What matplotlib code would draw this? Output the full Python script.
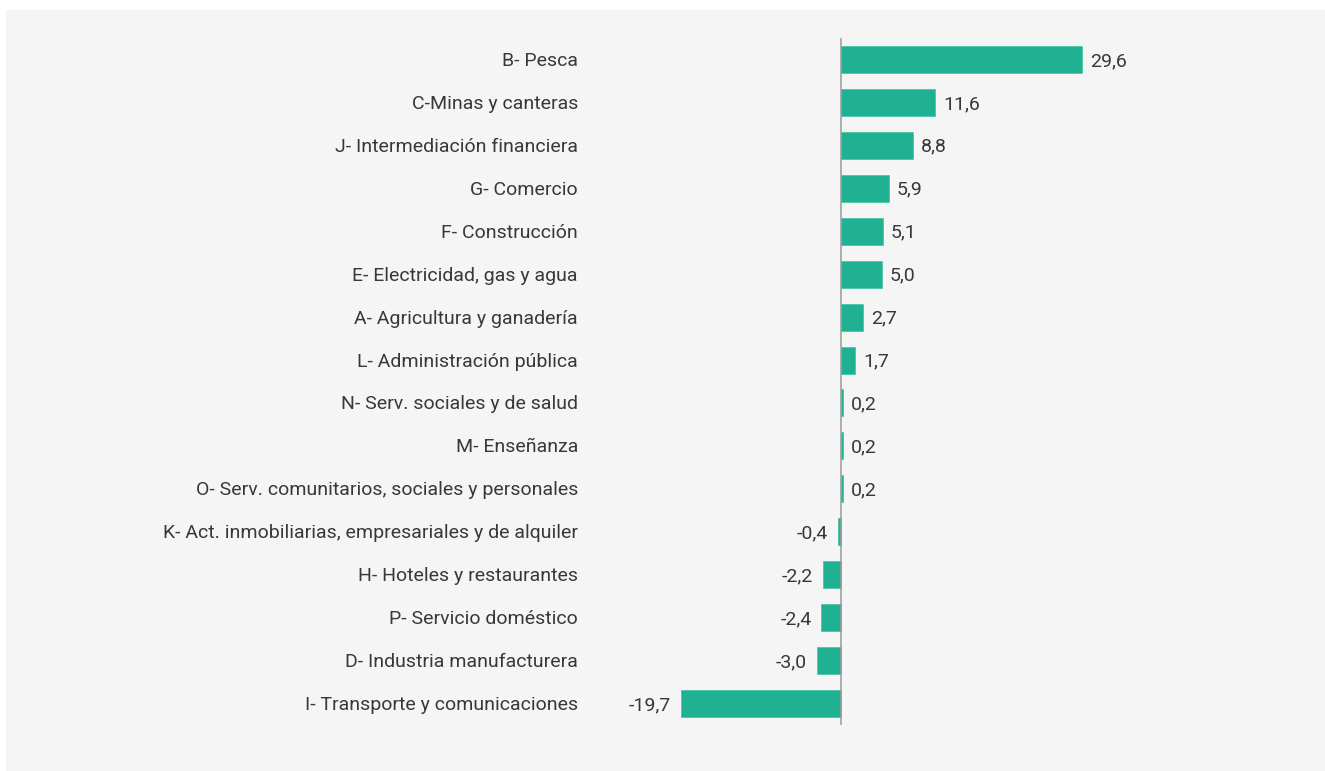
import matplotlib
matplotlib.use("Agg")
import matplotlib.pyplot as plt
from matplotlib.patches import Rectangle

categories = [
    "B- Pesca", "C-Minas y canteras", "J- Intermediación financiera", "G- Comercio",
    "F- Construcción", "E- Electricidad, gas y agua", "A- Agricultura y ganadería",
    "L- Administración pública", "N- Serv. sociales y de salud", "M- Enseñanza",
    "O- Serv. comunitarios, sociales y personales",
    "K- Act. inmobiliarias, empresariales y de alquiler",
    "H- Hoteles y restaurantes", "P- Servicio doméstico",
    "D- Industria manufacturera", "I- Transporte y comunicaciones",
]
values = [29.6, 11.6, 8.8, 5.9, 5.1, 5.0, 2.7, 1.7, 0.2, 0.2, 0.2, -0.4, -2.2, -2.4, -3.0, -19.7]
value_labels = ["29,6", "11,6", "8,8", "5,9", "5,1", "5,0", "2,7", "1,7", "0,2", "0,2", "0,2",
                "-0,4", "-2,2", "-2,4", "-3,0", "-19,7"]

plt.rcParams['font.family'] = ['Roboto', 'DejaVu Sans']

W, H = 1325, 771
fig = plt.figure(figsize=(W / 100, H / 100), dpi=100)
fig.patch.set_facecolor("white")
fig.patches.append(Rectangle((6 / W, 0), 1 - 6 / W, 1 - 10 / H, transform=fig.transFigure,
                             facecolor="#f5f5f5", edgecolor="none", zorder=-10))

xmin, xmax = -22, 32
ppu = 8.14
left_px = 841 + xmin * ppu
right_px = 841 + xmax * ppu
top_px, bot_px = 38, 725
ax = fig.add_axes([left_px / W, 1 - bot_px / H, (right_px - left_px) / W, (bot_px - top_px) / H])
ax.set_facecolor("none")
ax.set_zorder(5)

y = list(range(len(categories)))
ax.barh(y, values, height=0.63, color="#1fb191", edgecolor="#4cc6a9", linewidth=0.6, zorder=2)
ax.set_xlim(xmin, xmax)
ax.set_ylim(len(categories) - 0.5, -0.5)
ax.axvline(0, color="#9a9a9a", linewidth=1.1, zorder=3)

for s in ax.spines.values():
    s.set_visible(False)
ax.set_xticks([])
ax.set_yticks([])

fs = 14
tc = "#383838"
dy = -1.5
for yi, v, lab in zip(y, values, value_labels):
    if v >= 0:
        ax.annotate(lab, (v, yi), xytext=(8, dy), textcoords="offset pixels",
                    ha="left", va="center", fontsize=fs, color=tc)
    else:
        ax.annotate(lab, (v, yi), xytext=(-10, dy), textcoords="offset pixels",
                    ha="right", va="center", fontsize=fs, color=tc)

for yi, c in zip(y, categories):
    ax.annotate(c, (0, yi), xycoords=("axes fraction", "data"), xytext=(578 - left_px, dy),
                textcoords="offset pixels", ha="right", va="center", fontsize=fs, color=tc)

fig.savefig("out.png", dpi=100, facecolor=fig.get_facecolor())
